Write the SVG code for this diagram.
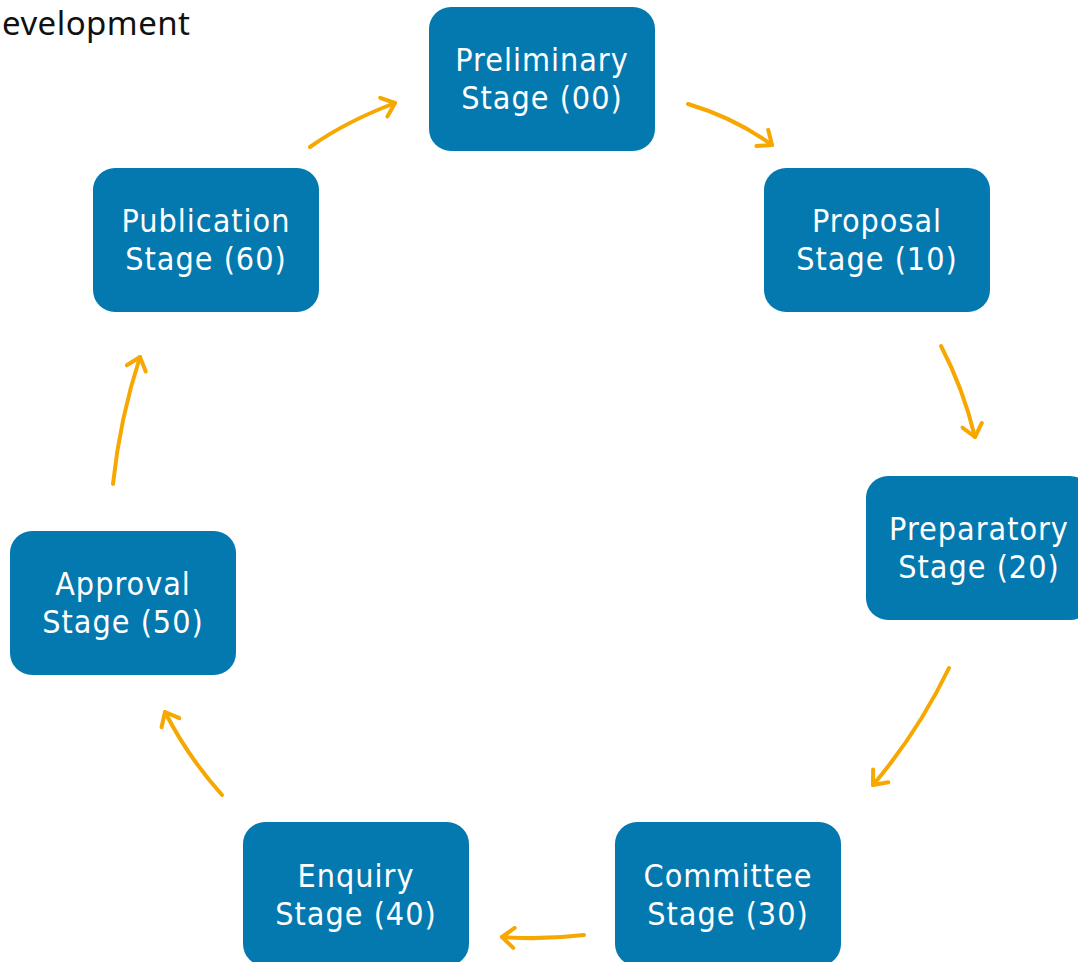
<svg xmlns="http://www.w3.org/2000/svg" width="1078" height="962" viewBox="0 0 1078 962">
<style>
.box{fill:#0379B0}
.lbl{fill:#fff;font-family:"DejaVu Sans Condensed","Liberation Sans",sans-serif;font-size:32px;letter-spacing:1px;text-anchor:middle}
.arr{fill:none;stroke:#F7A800;stroke-width:4;stroke-linecap:round;marker-end:url(#ah)}
.title{fill:#111;font-family:"Noto Sans","Open Sans",sans-serif;font-size:33px}
</style>
<defs>
<marker id="ah" viewBox="0 0 24 24" markerWidth="24" markerHeight="24" refX="20" refY="12" orient="auto" markerUnits="userSpaceOnUse">
<path d="M8,2 L20,12 L8,22" fill="none" stroke="#F7A800" stroke-width="4" stroke-linecap="round" stroke-linejoin="round"/>
</marker>
</defs>
<rect width="1078" height="962" fill="#fff"/>
<text class="title" x="2" y="35" textLength="188" lengthAdjust="spacing">evelopment</text>
<g id="connectors">
<path class="arr" d="M310,147 Q345,122 395,103"/>
<path class="arr" d="M688,104 Q735,118 772,145"/>
<path class="arr" d="M941,346 Q963,388 975,437"/>
<path class="arr" d="M949,668 Q918,732 873,785"/>
<path class="arr" d="M584,935 Q543,940 502,937"/>
<path class="arr" d="M222,795 Q188,757 165,712"/>
<path class="arr" d="M113,484 Q120,418 140,357"/>
</g>
<g id="n00"><rect class="box" x="429" y="7" width="226" height="144" rx="22"/><text class="lbl" x="542" y="71">Preliminary</text><text class="lbl" x="542" y="109">Stage (00)</text></g>
<g id="n10"><rect class="box" x="764" y="168" width="226" height="144" rx="22"/><text class="lbl" x="877" y="232">Proposal</text><text class="lbl" x="877" y="270">Stage (10)</text></g>
<g id="n20"><rect class="box" x="866" y="476" width="226" height="144" rx="22"/><text class="lbl" x="979" y="540">Preparatory</text><text class="lbl" x="979" y="578">Stage (20)</text></g>
<g id="n30"><rect class="box" x="615" y="822" width="226" height="144" rx="22"/><text class="lbl" x="728" y="887">Committee</text><text class="lbl" x="728" y="925">Stage (30)</text></g>
<g id="n40"><rect class="box" x="243" y="822" width="226" height="144" rx="22"/><text class="lbl" x="356" y="887">Enquiry</text><text class="lbl" x="356" y="925">Stage (40)</text></g>
<g id="n50"><rect class="box" x="10" y="531" width="226" height="144" rx="22"/><text class="lbl" x="123" y="595">Approval</text><text class="lbl" x="123" y="633">Stage (50)</text></g>
<g id="n60"><rect class="box" x="93" y="168" width="226" height="144" rx="22"/><text class="lbl" x="206" y="232">Publication</text><text class="lbl" x="206" y="270">Stage (60)</text></g>
</svg>
